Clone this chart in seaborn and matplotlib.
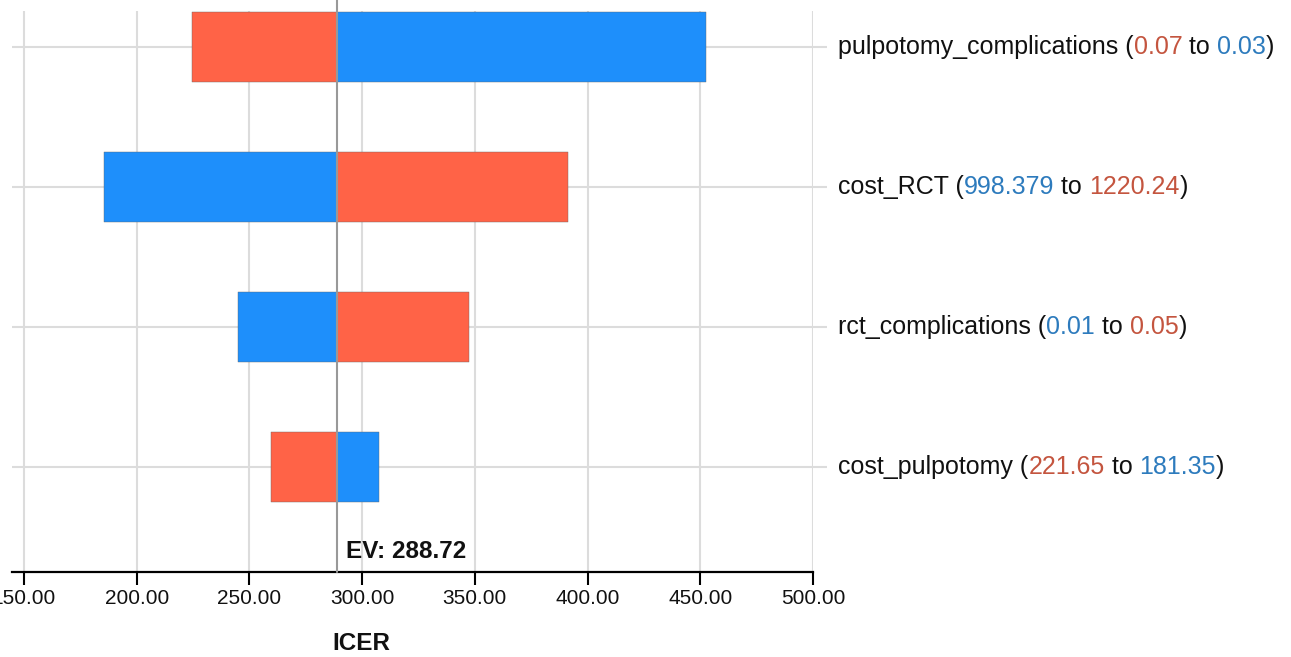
import pandas as pd
import numpy as np
import seaborn as sns
import matplotlib
matplotlib.use("Agg")
import matplotlib.pyplot as plt

# tornado data
params = ["pulpotomy_complications", "cost_RCT", "rct_complications", "cost_pulpotomy"]
first_label = ["0.07", "998.379", "0.01", "221.65"]
second_label = ["0.03", "1220.24", "0.05", "181.35"]
first_side = ["red", "blue", "blue", "red"]
icer_first = [224.7, 185.5, 244.9, 259.6]
icer_second = [452.6, 391.3, 347.4, 307.5]
ev = 288.72
xticks = [150, 200, 250, 300, 350, 400, 450, 500]

sns.set_style("white")
plt.rcParams["font.family"] = ["Liberation Sans", "DejaVu Sans"]

bar_col = {"red": "#ff6347", "blue": "#1e8ffb"}
txt_col = {"red": "#c4553f", "blue": "#2d7bbd"}
other = {"red": "blue", "blue": "red"}

fig = plt.figure(figsize=(12.91, 6.57), dpi=100)
ax = fig.add_axes([12 / 1291, 85 / 657, 801 / 1291, 561 / 657])

xmin, xmax = 144.7, 500
ax.set_xlim(xmin, xmax)
ax.set_ylim(3.75, -0.257)

# grid
for x in xticks:
    ax.axvline(x, color="#dcdcdc", lw=1.5, zorder=0)
ax.hlines(range(len(params)), xmin, 506.2, color="#dcdcdc", lw=1.5,
          zorder=0, clip_on=False)

for i, p in enumerate(params):
    c1 = first_side[i]
    c2 = other[c1]
    ax.barh(i, icer_first[i] - ev, left=ev, height=0.5, color=bar_col[c1],
            edgecolor="#666666", linewidth=0.3, zorder=2)
    ax.barh(i, icer_second[i] - ev, left=ev, height=0.5, color=bar_col[c2],
            edgecolor="#666666", linewidth=0.3, zorder=2)

    # right hand label in coloured pieces
    t = ax.annotate(p + " (", xy=(511.1, i), xycoords="data", ha="left",
                    va="center", fontsize=18, color="#111111",
                    annotation_clip=False)
    pieces = [(first_label[i], txt_col[c1]), (" to ", "#111111"),
              (second_label[i], txt_col[c2]), (")", "#111111")]
    for s, col in pieces:
        t = ax.annotate(s, xy=(1, 0), xycoords=t, ha="left", va="bottom",
                        fontsize=18, color=col)

ax.axvline(ev, ymin=0, ymax=1.02, color="#999999", lw=1.5, zorder=3,
           clip_on=False)
ax.annotate("EV: %.2f" % ev, xy=(ev, 0.037), xycoords=("data", "axes fraction"),
            xytext=(7, 0), textcoords="offset points", ha="left", va="center",
            fontsize=17.5, fontweight="bold", color="#111111")

ax.set_xticks(xticks)
ax.set_xticklabels(["%.2f" % x for x in xticks], fontsize=15, color="#111111")
ax.set_yticks([])
ax.tick_params(axis="x", direction="out", length=9.4, width=1.5, color="black",
               pad=3, bottom=True)
for s in ["top", "left", "right"]:
    ax.spines[s].set_visible(False)
ax.spines["bottom"].set_color("black")
ax.spines["bottom"].set_linewidth(1.6)

fig.text(361 / 1291, 1 - 644 / 657, "ICER", ha="center", va="center",
         fontsize=17.5, fontweight="bold", color="#111111")

fig.savefig("out.png", dpi=100)
